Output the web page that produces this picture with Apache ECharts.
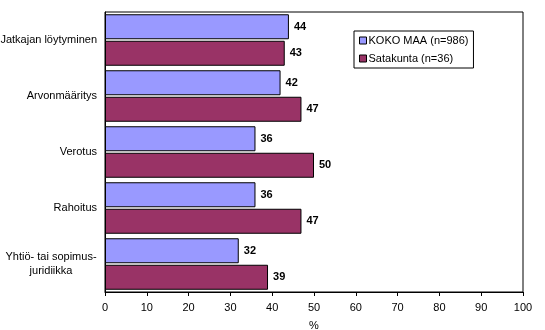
<!DOCTYPE html>
<html>
<head>
<meta charset="utf-8">
<script src="https://cdn.jsdelivr.net/npm/echarts@6/dist/echarts.min.js"></script>
<style>
  html, body { margin: 0; padding: 0; background: #fff; }
  #chart { width: 545px; height: 330px; }
</style>
</head>
<body>
<div id="chart"></div>
<script>
// Aiheet (ylhäältä alas)
const categories = [
  'Jatkajan löytyminen',
  'Arvonmääritys',
  'Verotus',
  'Rahoitus',
  'Yhtiö- tai sopimus-\njuridiikka'
];
const seriesNames = ['KOKO MAA (n=986)', 'Satakunta (n=36)'];
const kokoMaa = [44, 42, 36, 36, 32];
const satakunta = [43, 47, 50, 47, 39];
const xTicks = [0, 10, 20, 30, 40, 50, 60, 70, 80, 90, 100];

const FONT = 'Liberation Sans, Arial, sans-serif';

const labelStyle = {
  show: true,
  position: 'right',
  distance: 5,
  color: '#000',
  fontFamily: FONT,
  fontWeight: 'bold',
  fontSize: 11
};

const chart = echarts.init(document.getElementById('chart'), null, { renderer: 'canvas' });
chart.setOption({
  animation: false,
  backgroundColor: '#fff',
  grid: {
    left: 105, right: 22, top: 12, bottom: 38,
    outerBoundsMode: 'none',
    containLabel: false,
    show: true, borderColor: '#000', borderWidth: 1, backgroundColor: 'transparent'
  },
  legend: {
    orient: 'vertical',
    left: 354, top: 31,
    padding: [4, 5, 4, 5],
    borderColor: '#000', borderWidth: 1,
    backgroundColor: '#fff',
    itemWidth: 7, itemHeight: 7, itemGap: 7,
    icon: 'rect',
    textStyle: { fontFamily: FONT, fontSize: 11, color: '#000', padding: [0, 0, 0, -3] },
    data: seriesNames.map(n => ({ name: n, itemStyle: { borderColor: '#000', borderWidth: 1 } }))
  },
  xAxis: {
    type: 'value',
    min: xTicks[0], max: xTicks[xTicks.length - 1], interval: 10,
    name: '%', nameLocation: 'middle', nameGap: 28,
    nameTextStyle: { fontFamily: FONT, fontSize: 11, color: '#000' },
    axisLine: { show: true, lineStyle: { color: '#000', width: 1 } },
    axisTick: { show: true, length: 4, lineStyle: { color: '#000' } },
    axisLabel: { fontFamily: FONT, fontSize: 11, color: '#000', margin: 10 },
    splitLine: { show: false }
  },
  yAxis: {
    type: 'category',
    inverse: true,
    data: categories,
    axisLine: { show: true, lineStyle: { color: '#000', width: 1 } },
    axisTick: { show: false },
    axisLabel: {
      fontFamily: FONT, fontSize: 11, color: '#000', margin: 8, lineHeight: 14,
      // Multi-line labels are centred within a fixed-width block
      formatter: v => v.indexOf('\n') >= 0
        ? v.split('\n').map(s => '{c|' + s + '}').join('\n')
        : v,
      rich: {
        c: { width: 92, align: 'center', fontFamily: FONT, fontSize: 11, color: '#000', lineHeight: 14 }
      }
    }
  },
  series: [
    {
      name: seriesNames[0], type: 'bar', data: kokoMaa,
      barWidth: 25, barGap: '6%',
      itemStyle: { color: '#9999FF', borderColor: '#000', borderWidth: 1 },
      label: labelStyle
    },
    {
      name: seriesNames[1], type: 'bar', data: satakunta,
      barWidth: 25, barGap: '6%',
      itemStyle: { color: '#993366', borderColor: '#000', borderWidth: 1 },
      label: labelStyle
    }
  ]
});
</script>
</body>
</html>
